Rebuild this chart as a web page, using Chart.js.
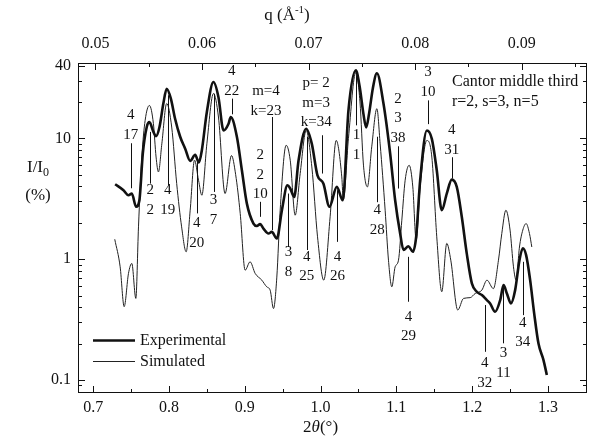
<!DOCTYPE html>
<html>
<head>
<meta charset="utf-8">
<script src="https://cdn.jsdelivr.net/npm/chart.js@4.4.1/dist/chart.umd.min.js"></script>
<style>
  html, body { margin: 0; padding: 0; background: #fff; }
</style>
</head>
<body>
<canvas id="chart" width="590" height="441"></canvas>
<script>
// experimental curve, 2theta (deg) and I/I0 (%)
const expAngle = [0.729, 0.740, 0.7466, 0.751, 0.7567, 0.761, 0.7655, 0.7707, 0.7742, 0.7795, 0.783,
  0.7875, 0.7926, 0.797, 0.8025, 0.808, 0.8148, 0.8214, 0.828, 0.8346, 0.8394, 0.8433, 0.85, 0.8587,
  0.8653, 0.872, 0.8786, 0.8815, 0.8896, 0.8962, 0.9028, 0.9115, 0.916, 0.9203, 0.9247, 0.9313, 0.9357,
  0.9423, 0.949, 0.9563, 0.96, 0.9652, 0.971, 0.981, 0.9884, 0.9959, 1.0037, 1.0117, 1.0214, 1.0293,
  1.0368, 1.0465, 1.0515, 1.0565, 1.0602, 1.064, 1.069, 1.0743, 1.083, 1.0918, 1.0984, 1.105, 1.1094,
  1.116, 1.1217, 1.1261, 1.1314, 1.1402, 1.1468, 1.1533, 1.1599, 1.1665, 1.1731, 1.1797, 1.1863, 1.1929,
  1.1996, 1.2062, 1.2128, 1.2194, 1.2237, 1.2303, 1.237, 1.2414, 1.2458, 1.2511, 1.2567, 1.2624, 1.2668,
  1.2712, 1.2765, 1.2818, 1.2875, 1.2941, 1.2985];
const expIntensity = [4.17, 3.72, 3.38, 3.49, 2.71, 3.07, 7.47, 12.4, 13.6, 11.3, 10.4,
  12.4, 19.4, 25.7, 21.3, 14.6, 10.3, 8.2, 6.5, 7.3, 6.3, 7.9, 16.5, 29.2,
  21.9, 11.6, 13.2, 15.0, 10.3, 5.44, 2.88, 1.97, 1.88, 1.95, 1.79, 1.63, 1.68,
  1.48, 2.54, 4.09, 3.84, 3.27, 6.58, 12.0, 9.04, 4.94, 4.22, 2.71, 3.96, 3.07,
  17.0, 36.5, 27, 16, 12.3, 16, 26, 34.5, 19.4, 7.49, 3.07, 1.63, 1.19,
  1.28, 1.15, 1.53, 4.5, 11.6, 9.9, 5.44, 2.54, 3.49, 4.55, 3.96, 2.24, 1.11,
  0.63, 0.537, 0.504, 0.458, 0.43, 0.367, 0.458, 0.61, 0.52, 0.43, 0.554, 0.98, 1.23,
  1.08, 0.67, 0.356, 0.20, 0.146, 0.110];

// simulated curve
const simAngle = [0.7285, 0.7356, 0.7409, 0.7466, 0.751, 0.7563, 0.7598, 0.7642, 0.7686, 0.7742, 0.7795,
  0.783, 0.7861, 0.7906, 0.797, 0.8036, 0.8102, 0.8167, 0.8227, 0.828, 0.8337, 0.839, 0.8434, 0.85,
  0.8587, 0.8653, 0.874, 0.8825, 0.888, 0.894, 0.9005, 0.907, 0.9137, 0.9225, 0.929, 0.9335, 0.9379,
  0.9423, 0.9467, 0.9546, 0.96, 0.9665, 0.9731, 0.981, 0.9885, 0.996, 1.0042, 1.0126, 1.0206, 1.028,
  1.030, 1.0368, 1.0465, 1.052, 1.0566, 1.0618, 1.0675, 1.0743, 1.0786, 1.0852, 1.0896, 1.094, 1.0984,
  1.1028, 1.1072, 1.1116, 1.1169, 1.1217, 1.1261, 1.1314, 1.1402, 1.1468, 1.1533, 1.1599, 1.1665, 1.1718,
  1.181, 1.1886, 1.1974, 1.204, 1.2128, 1.2195, 1.228, 1.2347, 1.2391, 1.2445, 1.25, 1.2545, 1.258,
  1.2624, 1.2668, 1.2712, 1.2756, 1.2787];
const simIntensity = [1.46, 0.864, 0.404, 0.762, 0.921, 0.473, 1.85, 7.0, 14.1, 18.7, 13.2,
  7.0, 5.27, 9.0, 19.4, 12.4, 4.22, 1.85, 1.15, 2.54, 6.6, 4.5, 3.38, 9.0,
  23.5, 15.0, 3.49, 7.2, 5.0, 2.39, 0.81, 0.95, 0.762, 0.67, 0.59, 0.554, 0.39,
  0.71, 2.54, 8.76, 6.58, 2.31, 5.1, 11.6, 5.79, 1.53, 0.67, 2.24, 9.6, 4.79,
  3.1, 10, 35, 20, 6, 3.96, 8.5, 17.6, 9.0, 2.54, 0.98, 0.59, 0.864,
  0.98, 2.1, 4.5, 5.98, 3.96, 1.44, 3.96, 9.6, 7.0, 1.53, 0.537, 1.35, 0.98,
  0.379, 0.473, 0.48, 0.52, 0.554, 0.67, 0.57, 0.98, 1.63, 2.54, 1.74, 0.864, 0.67,
  1.26, 1.74, 1.97, 1.63, 1.26];

const angleTicks = [0.7, 0.8, 0.9, 1.0, 1.1, 1.2, 1.3];
const angleMinor = [0.75, 0.85, 0.95, 1.05, 1.15, 1.25, 1.35];
const qTicks = [0.05, 0.06, 0.07, 0.08, 0.09];
const qMinor = [0.055, 0.065, 0.075, 0.085, 0.095];
const intensityTicks = [0.1, 1, 10, 40];
const intensityMinor = [0.08, 0.09, 0.2, 0.3, 0.4, 0.5, 0.6, 0.7, 0.8, 0.9,
  2, 3, 4, 5, 6, 7, 8, 9, 20, 30];
const wavelength = 1.5418; // Cu K-alpha, A

// peak labels: [angle of marker, text lines, value at first text line, marker from, marker to]
const peakLabels = [
  [0.7495, ["4", "17"], 15.5, 9.1, 3.86],
  [0.7752, ["2", "2"], 3.72, 11.3, 4.22],
  [0.7985, ["4", "19"], 3.72, 22.7, 4.09],
  [0.8365, ["4", "20"], 1.97, 6.58, 2.39],
  [0.8588, ["3", "7"], 3.07, 23.4, 3.6],
  [0.8827, ["4", "22"], 36.0, 21.3, 15.8],
  [0.9203, ["2", "2", "10"], 7.24, 2.98, 2.24],
  [0.9577, ["3", "8"], 1.136, 3.49, 1.26],
  [0.9818, ["4", "25"], 1.045, 10.3, 1.19],
  [1.0223, ["4", "26"], 1.045, 3.72, 1.39],
  [1.0473, ["1", "1"], 10.6, 33.2, 12.8],
  [1.0747, ["4", "28"], 2.54, 10.3, 2.96],
  [1.102, ["2", "3", "38"], 21.3, 8.59, 3.84],
  [1.1416, ["3", "10"], 35.3, 20.6, 13.1],
  [1.1732, ["4", "31"], 11.6, 6.97, 4.64],
  [1.116, ["4", "29"], 0.334, 1.045, 0.444],
  [1.2165, ["4", "32"], 0.1374, 0.417, 0.171],
  [1.2413, ["3", "11"], 0.166, 0.61, 0.201],
  [1.2669, ["4", "34"], 0.298, 0.95, 0.344]
];
// labels with text off to the side of their marker: [marker angle, text centre angle, lines, first value, from, to]
const sideLabels = [
  [0.9357, 0.928, ["m=4", "k=23"], 24.6, 15.0, 1.74],
  [1.0017, 0.9942, ["p= 2", "m=3", "k=34"], 28.6, 10.6, 5.11]
];

const SERIF = '"Liberation Serif", "Times New Roman", serif';
const INK = '#111';

function qToAngle(q) {
  return 2 * Math.asin(q * wavelength / (4 * Math.PI)) * 180 / Math.PI;
}

function toPoints(xs, ys) {
  return xs.map((x, i) => ({ x: x, y: ys[i] }));
}

const decorations = {
  id: 'decorations',
  afterDatasetsDraw(chart) {
    const ctx = chart.ctx;
    const a = chart.chartArea;
    const x = chart.scales.x;
    const y = chart.scales.y;
    ctx.save();
    ctx.strokeStyle = INK;
    ctx.fillStyle = INK;
    ctx.lineWidth = 1;

    // frame
    ctx.strokeRect(Math.round(a.left) + 0.5, Math.round(a.top) + 0.5,
      Math.round(a.right - a.left) - 1, Math.round(a.bottom - a.top) - 1);

    // inward ticks
    ctx.beginPath();
    const vTick = (v, len, atTop) => {
      const px = Math.round(x.getPixelForValue(v)) + 0.5;
      if (px < a.left || px > a.right) return;
      if (atTop) { ctx.moveTo(px, a.top); ctx.lineTo(px, a.top + len); }
      else { ctx.moveTo(px, a.bottom); ctx.lineTo(px, a.bottom - len); }
    };
    angleTicks.forEach(v => vTick(v, 7, false));
    angleMinor.forEach(v => vTick(v, 4, false));
    qTicks.forEach(q => vTick(qToAngle(q), 7, true));
    qMinor.forEach(q => vTick(qToAngle(q), 4, true));
    const hTick = (v, len) => {
      const py = Math.round(y.getPixelForValue(v)) + 0.5;
      if (py < a.top || py > a.bottom) return;
      ctx.moveTo(a.left, py); ctx.lineTo(a.left + len, py);
      ctx.moveTo(a.right, py); ctx.lineTo(a.right - len, py);
    };
    intensityTicks.forEach(v => hTick(v, 7));
    intensityMinor.forEach(v => hTick(v, 4));
    ctx.stroke();

    // peak labels
    ctx.font = '15px ' + SERIF;
    ctx.textAlign = 'center';
    ctx.textBaseline = 'middle';
    const drawLabel = (lineX, textX, lines, first, from, to) => {
      const lx = Math.round(x.getPixelForValue(lineX)) + 0.5;
      const tx = x.getPixelForValue(textX);
      const ty = y.getPixelForValue(first);
      lines.forEach((t, i) => ctx.fillText(t, tx, ty + i * 19.5));
      ctx.beginPath();
      ctx.moveTo(lx, y.getPixelForValue(from));
      ctx.lineTo(lx, y.getPixelForValue(to));
      ctx.stroke();
    };
    peakLabels.forEach(p => drawLabel(p[0], p[0], p[1], p[2], p[3], p[4]));
    sideLabels.forEach(p => drawLabel(p[0], p[1], p[2], p[3], p[4], p[5]));

    // sample description
    ctx.font = '16px ' + SERIF;
    ctx.textAlign = 'left';
    ctx.fillText('Cantor middle third', a.left + 374, a.top + 19);
    ctx.fillText('r=2, s=3, n=5', a.left + 374, a.top + 39);

    // legend
    chart.data.datasets.forEach((ds, i) => {
      const ly = Math.round(a.bottom - 53 + i * 21) + 0.5;
      ctx.beginPath();
      ctx.lineWidth = ds.borderWidth;
      ctx.strokeStyle = ds.borderColor;
      ctx.moveTo(a.left + 15, ly);
      ctx.lineTo(a.left + 57, ly);
      ctx.stroke();
      ctx.fillText(ds.label, a.left + 62, ly);
    });

    // axis titles
    ctx.font = '17px ' + SERIF;
    ctx.textAlign = 'left';
    // bottom: 2θ(°)
    let parts = [['2', '17px '], ['θ', 'italic 17px '], ['(°)', '17px ']];
    let w = 0;
    parts.forEach(p => { ctx.font = p[1] + SERIF; w += ctx.measureText(p[0]).width; });
    let cx = x.getPixelForValue(1.0) - w / 2;
    parts.forEach(p => { ctx.font = p[1] + SERIF; ctx.fillText(p[0], cx, 428); cx += ctx.measureText(p[0]).width; });
    // top: q (Å-1)
    parts = [['q (Å', '17px ', 0], ['-1', '11px ', -6], [')', '17px ', 0]];
    w = 0;
    parts.forEach(p => { ctx.font = p[1] + SERIF; w += ctx.measureText(p[0]).width; });
    cx = 287 - w / 2;
    parts.forEach(p => { ctx.font = p[1] + SERIF; ctx.fillText(p[0], cx, 16 + p[2]); cx += ctx.measureText(p[0]).width; });
    // left: I/I0 (%)
    parts = [['I/I', '17px ', 0], ['0', '12px ', 5]];
    w = 0;
    parts.forEach(p => { ctx.font = p[1] + SERIF; w += ctx.measureText(p[0]).width; });
    cx = 38 - w / 2;
    parts.forEach(p => { ctx.font = p[1] + SERIF; ctx.fillText(p[0], cx, 168 + p[2]); cx += ctx.measureText(p[0]).width; });
    ctx.font = '17px ' + SERIF;
    ctx.textAlign = 'center';
    ctx.fillText('(%)', 38, 196);
    ctx.restore();
  }
};

const tickFont = { family: SERIF, size: 16 };

new Chart(document.getElementById('chart'), {
  type: 'line',
  data: {
    datasets: [
      {
        label: 'Experimental',
        data: toPoints(expAngle, expIntensity),
        borderColor: INK,
        borderWidth: 2.6,
        pointRadius: 0,
        fill: false,
        cubicInterpolationMode: 'monotone'
      },
      {
        label: 'Simulated',
        data: toPoints(simAngle, simIntensity),
        borderColor: '#222',
        borderWidth: 1,
        pointRadius: 0,
        fill: false,
        cubicInterpolationMode: 'monotone'
      }
    ]
  },
  options: {
    responsive: false,
    animation: false,
    layout: { padding: { left: 0, right: 3, top: 0, bottom: 0 } },
    plugins: { legend: { display: false }, tooltip: { enabled: false } },
    scales: {
      x: {
        type: 'linear',
        position: 'bottom',
        min: 0.68,
        max: 1.3515,
        bounds: 'data',
        grid: { display: false, drawTicks: false },
        border: { display: false },
        afterBuildTicks: s => { s.ticks = angleTicks.map(v => ({ value: v })); },
        ticks: { callback: v => v.toFixed(1), font: tickFont, color: INK, padding: 5, maxRotation: 0, autoSkip: false },
        afterFit: s => { s.height = 48; }
      },
      x2: {
        type: 'linear',
        position: 'top',
        min: 0.68,
        max: 1.3515,
        bounds: 'data',
        grid: { display: false, drawTicks: false },
        border: { display: false },
        afterBuildTicks: s => { s.ticks = qTicks.map(q => ({ value: qToAngle(q) })); },
        ticks: { callback: (v, i) => qTicks[i].toFixed(2), font: tickFont, color: INK, padding: 10, maxRotation: 0, autoSkip: false },
        afterFit: s => { s.height = 63; }
      },
      y: {
        type: 'logarithmic',
        min: 0.078,
        max: 42,
        grid: { display: false, drawTicks: false },
        border: { display: false },
        afterBuildTicks: s => { s.ticks = intensityTicks.map(v => ({ value: v })); },
        ticks: { callback: v => String(v), font: tickFont, color: INK, padding: 7, autoSkip: false },
        afterFit: s => { s.width = 78; }
      }
    }
  },
  plugins: [decorations]
});
</script>
</body>
</html>
